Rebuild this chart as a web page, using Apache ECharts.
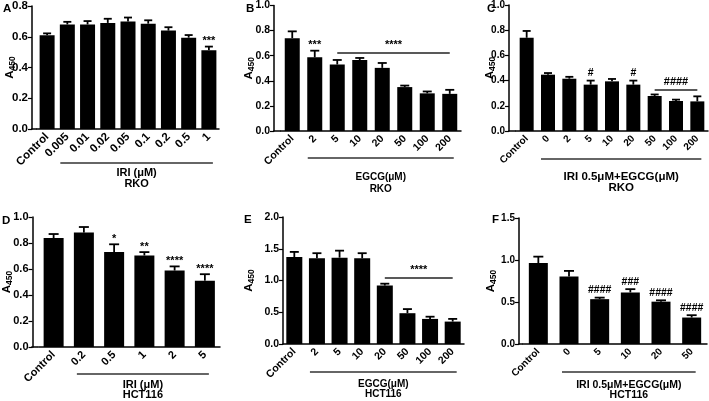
<!DOCTYPE html>
<html><head><meta charset="utf-8">
<script src="https://cdn.jsdelivr.net/npm/echarts@6/dist/echarts.min.js"></script>
<style>html,body{margin:0;padding:0;background:#fff}#c{width:709px;height:401px}</style>
</head><body><div id="c"></div>
<script>
// ---- data ----
const catsA = ['Control','0.005','0.01','0.02','0.05','0.1','0.2','0.5','1'];
const valsA = [0.61,0.68,0.68,0.69,0.70,0.685,0.64,0.594,0.513];
const errsA = [0.012,0.017,0.022,0.027,0.025,0.022,0.022,0.017,0.023];
const sigA  = ['','','','','','','','','***'];

const catsB = ['Control','2','5','10','20','50','100','200'];
const valsB = [0.74,0.587,0.53,0.566,0.503,0.35,0.30,0.296];
const errsB = [0.054,0.053,0.036,0.016,0.039,0.012,0.015,0.032];
const sigB  = ['','***','','','','','',''];
const sigLineB = {from:'5', to:'200', y:0.627, text:'****'};

const catsC = ['Control','0','2','5','10','20','50','100','200'];
const valsC = [0.74,0.447,0.415,0.368,0.394,0.368,0.278,0.238,0.235];
const errsC = [0.054,0.013,0.015,0.032,0.019,0.032,0.012,0.011,0.04];
const sigC  = ['','','','#','','#','','',''];
const sigLineC = {from:'50', to:'200', y:0.328, text:'####'};

const catsD = ['Control','0.2','0.5','1','2','5'];
const valsD = [0.838,0.88,0.73,0.704,0.588,0.51];
const errsD = [0.031,0.043,0.06,0.026,0.032,0.05];
const sigD  = ['','','*','**','****','****'];

const catsE = ['Control','2','5','10','20','50','100','200'];
const valsE = [1.37,1.35,1.36,1.35,0.92,0.485,0.395,0.353];
const errsE = [0.08,0.08,0.11,0.08,0.03,0.065,0.035,0.042];
const sigE  = ['','','','','','','',''];
const sigLineE = {from:'20', to:'200', y:1.05, text:'****'};

const catsF = ['Control','0','5','10','20','50'];
const valsF = [0.964,0.805,0.534,0.614,0.504,0.315];
const errsF = [0.076,0.065,0.018,0.039,0.016,0.028];
const sigF  = ['','','####','###','####','####'];

const yTicks = {A:[0,0.8,0.2], B:[0,1.0,0.2], C:[0,1.0,0.2], D:[0,1.0,0.2], E:[0,2.0,0.5], F:[0,1.5,0.5]};
const labelsTitle = {A:['IRI (μM)','RKO'], B:['EGCG(μM)','RKO'], C:['IRI 0.5μM+EGCG(μM)','RKO'],
                     D:['IRI (μM)','HCT116'], E:['EGCG(μM)','HCT116'], F:['IRI 0.5μM+EGCG(μM)','HCT116']};

// ---- layout ----
const panels = [
  {key:'A', cats:catsA, vals:valsA, errs:errsA, sig:sigA, line:null,
   grid:{left:37,top:5,width:182,height:124}, yOff:5, bw:15, cap:4, gap:14.5, fs:11.5, ts:11,
   letter:[3,3], ul:163, t1:173, t2:184},
  {key:'B', cats:catsB, vals:valsB, errs:errsB, sig:sigB, line:sigLineB,
   grid:{left:281,top:5,width:180,height:126}, yOff:7, bw:15, cap:4.5, gap:18, fs:10.5, ts:10,
   letter:[246,3], ul:158, t1:177, t2:189},
  {key:'C', cats:catsC, vals:valsC, errs:errsC, sig:sigC, line:sigLineC,
   grid:{left:516,top:5,width:192,height:126}, yOff:7, bw:14, cap:4, gap:12, fs:10, ts:11.5,
   letter:[487,3], ul:159, t1:177, t2:188},
  {key:'D', cats:catsD, vals:valsD, errs:errsD, sig:sigD, line:null,
   grid:{left:38,top:217,width:182,height:130}, yOff:6, bw:20, cap:5, gap:18, fs:11, ts:11,
   letter:[2,215], ul:374, t1:385, t2:395},
  {key:'E', cats:catsE, vals:valsE, errs:errsE, sig:sigE, line:sigLineE,
   grid:{left:283,top:217,width:181,height:127}, yOff:0, bw:16, cap:4.5, gap:27, fs:10.5, ts:10,
   letter:[244,214], ul:372, t1:384, t2:394},
  {key:'F', cats:catsF, vals:valsF, errs:errsF, sig:sigF, line:null,
   grid:{left:523,top:218,width:184,height:126}, yOff:4, bw:19, cap:5, gap:20.5, fs:10, ts:10.5,
   letter:[492,214], ul:372, t1:385, t2:395}
];

const FONT = 'Liberation Sans, Arial, sans-serif';
const chart = echarts.init(document.getElementById('c'), null, {renderer:'canvas'});

const grids=[], xAxes=[], yAxes=[], series=[];
panels.forEach((p,i)=>{
  grids.push(Object.assign({containLabel:false}, p.grid));
  const yt = yTicks[p.key];
  xAxes.push({type:'category', gridIndex:i, data:p.cats, boundaryGap:true,
    axisLine:{lineStyle:{color:'#000',width:1.5}},
    axisTick:{alignWithLabel:true, length:3, lineStyle:{color:'#000',width:1.2}},
    axisLabel:{rotate:45, interval:0, color:'#000', fontWeight:'bold', fontSize:p.fs, fontFamily:FONT, margin:6}});
  yAxes.push({type:'value', gridIndex:i, min:yt[0], max:yt[1], interval:yt[2], offset:p.yOff,
    axisLine:{show:true, lineStyle:{color:'#000',width:1.5}},
    axisTick:{show:true, length:4, lineStyle:{color:'#000',width:1.2}},
    splitLine:{show:false},
    axisLabel:{color:'#000', fontWeight:'bold', fontSize:p.fs, fontFamily:FONT, margin:4,
      formatter:v=>v.toFixed(1)},
    name:'{a|A}{s|450}', nameLocation:'middle', nameGap:p.gap, nameRotate:90, nameMoveOverlap:false,
    nameTextStyle:{rich:{a:{fontSize:11.5,fontWeight:'bold',color:'#000',fontFamily:FONT},
                         s:{fontSize:8.5,fontWeight:'bold',color:'#000',fontFamily:FONT,verticalAlign:'bottom',padding:[6,0,0,0]}}}});
  const bar = {type:'bar', xAxisIndex:i, yAxisIndex:i, data:p.vals, barWidth:p.bw,
    itemStyle:{color:'#000'}, silent:true, animation:false};
  if(p.line){
    bar.markLine = {silent:true, symbol:'none', animation:false,
      lineStyle:{color:'#222', width:1.5, type:'solid'},
      label:{show:true, position:'middle', formatter:p.line.text, color:'#000', fontWeight:'bold', fontSize:11, fontFamily:FONT, distance:2},
      data:[[{coord:[p.line.from,p.line.y]},{coord:[p.line.to,p.line.y]}]]};
  }
  series.push(bar);
  series.push({type:'custom', xAxisIndex:i, yAxisIndex:i, animation:false, silent:true, z:5,
    data:p.vals.map((v,j)=>[j,v,p.errs[j]]),
    renderItem:(params,api)=>{
      const x=api.value(0), v=api.value(1), e=api.value(2);
      const p0=api.coord([x,v]), p1=api.coord([x,v+e]);
      const s=p.sig[params.dataIndex];
      const ch=[
        {type:'line', shape:{x1:p0[0],y1:p0[1],x2:p1[0],y2:p1[1]}, style:{stroke:'#000',lineWidth:1.8}},
        {type:'line', shape:{x1:p1[0]-p.cap,y1:p1[1],x2:p1[0]+p.cap,y2:p1[1]}, style:{stroke:'#000',lineWidth:1.8}}
      ];
      if(s){
        const isHash = s.indexOf('#')>=0;
        ch.push({type:'text', style:{text:s, x:p1[0], y:p1[1]-(isHash?2:0), align:'center', verticalAlign:'bottom',
          fill:'#000', font:'bold '+(isHash?10.5:11)+'px '+FONT}});
      }
      return {type:'group', children:ch};
    }});
});

chart.setOption({animation:false, grid:grids, xAxis:xAxes, yAxis:yAxes, series:series});

// annotations: panel letters, underline of dose groups, group titles, axis extension
const graphic=[];
panels.forEach((p,i)=>{
  graphic.push({type:'text', left:p.letter[0], top:p.letter[1],
    style:{text:p.key, font:'bold 11.5px '+FONT, fill:'#000'}});
  const xs = chart.convertToPixel({xAxisIndex:i}, p.cats[1]);
  const xe = chart.convertToPixel({xAxisIndex:i}, p.cats[p.cats.length-1]);
  graphic.push({type:'line', shape:{x1:xs-7,y1:p.ul,x2:xe+4,y2:p.ul}, style:{stroke:'#333',lineWidth:1.5}});
  const cx=(xs-7+xe+4)/2;
  const tl=labelsTitle[p.key];
  graphic.push({type:'text', x:cx, y:p.t1, style:{text:tl[0], font:'bold '+p.ts+'px '+FONT, fill:'#000', align:'center', verticalAlign:'middle'}});
  graphic.push({type:'text', x:cx, y:p.t2, style:{text:tl[1], font:'bold '+p.ts+'px '+FONT, fill:'#000', align:'center', verticalAlign:'middle'}});
  if(p.yOff>0){
    const by=p.grid.top+p.grid.height;
    graphic.push({type:'line', shape:{x1:p.grid.left-p.yOff-0.75,y1:by,x2:p.grid.left,y2:by}, style:{stroke:'#000',lineWidth:1.5}});
  }
});
chart.setOption({graphic:graphic});
</script>
</body></html>
